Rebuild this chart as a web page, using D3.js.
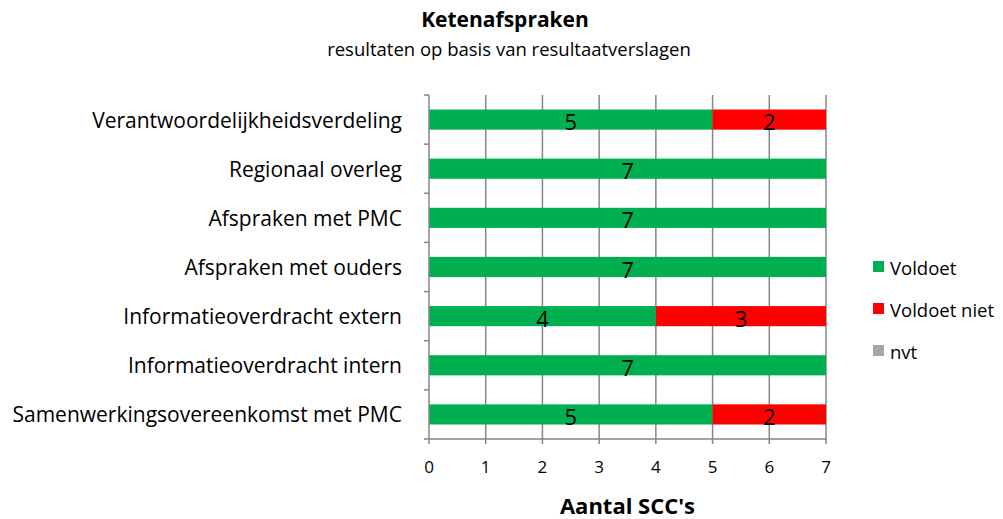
<!DOCTYPE html>
<html>
<head>
<meta charset="utf-8">
<style>
  body { margin: 0; background: #fff; font-family: "Open Sans", sans-serif; }
  svg text { fill: #000; }
</style>
<script src="https://d3js.org/d3.v7.min.js"></script>
</head>
<body>
<script>
  // data
  const categories = [
    "Verantwoordelijkheidsverdeling",
    "Regionaal overleg",
    "Afspraken met PMC",
    "Afspraken met ouders",
    "Informatieoverdracht extern",
    "Informatieoverdracht intern",
    "Samenwerkingsovereenkomst met PMC"
  ];
  const voldoet     = [5, 7, 7, 7, 4, 7, 5];
  const voldoetNiet = [2, 0, 0, 0, 3, 0, 2];
  const nvt         = [0, 0, 0, 0, 0, 0, 0];
  const seriesNames = ["Voldoet", "Voldoet niet", "nvt"];
  const seriesColors = ["#00B050", "#FF0000", "#A6A6A6"];
  const xTicks = [0, 1, 2, 3, 4, 5, 6, 7];

  const width = 1003, height = 519;
  const margin = { left: 429, right: 177, top: 95, bottom: 80 };

  const svg = d3.select("body").append("svg")
      .attr("width", width)
      .attr("height", height);

  const x = d3.scaleLinear().domain([0, 7]).range([margin.left, width - margin.right]);
  const y = d3.scaleBand().domain(categories)
      .range([margin.top, height - margin.bottom])
      .paddingInner(0.59).paddingOuter(0.295);
  const yFull = d3.scaleBand().domain(categories).range([margin.top, height - margin.bottom]);

  const rows = categories.map((c, i) => ({ cat: c, vals: [voldoet[i], voldoetNiet[i], nvt[i]] }));
  const stacked = d3.stack().keys([0, 1, 2]).value((d, k) => d.vals[k])(rows);

  // gridlines
  svg.append("g").selectAll("line")
    .data(xTicks.slice(1))
    .join("line")
      .attr("x1", d => x(d)).attr("x2", d => x(d))
      .attr("y1", margin.top).attr("y2", height - margin.bottom)
      .attr("stroke", "#868686").attr("stroke-width", 1.5);

  // bars
  stacked.forEach((layer, k) => {
    svg.append("g").attr("fill", seriesColors[k])
      .selectAll("rect")
      .data(layer)
      .join("rect")
        .attr("x", d => x(d[0]))
        .attr("width", d => x(d[1]) - x(d[0]))
        .attr("y", d => y(d.data.cat))
        .attr("height", y.bandwidth());
    svg.append("g")
      .selectAll("text")
      .data(layer.filter(d => d[1] - d[0] > 0))
      .join("text")
        .attr("x", d => (x(d[0]) + x(d[1])) / 2)
        .attr("y", d => y(d.data.cat) + y.bandwidth() / 2 + 1.5)
        .attr("text-anchor", "middle")
        .attr("dominant-baseline", "central")
        .style("font-size", "22px")
        .text(d => d[1] - d[0]);
  });

  // y axis
  const yAxis = svg.append("g").attr("transform", `translate(${margin.left},0)`);
  yAxis.append("line")
    .attr("x1", 0).attr("x2", 0)
    .attr("y1", margin.top).attr("y2", height - margin.bottom)
    .attr("stroke", "#868686").attr("stroke-width", 1.5);
  yAxis.selectAll("line.tk")
    .data(categories.map(c => yFull(c)).concat([height - margin.bottom]))
    .join("line").attr("class", "tk")
      .attr("x1", -5).attr("x2", 0)
      .attr("y1", d => d).attr("y2", d => d)
      .attr("stroke", "#868686").attr("stroke-width", 1.5);
  yAxis.selectAll("text")
    .data(categories)
    .join("text")
      .attr("x", -27)
      .attr("y", d => yFull(d) + yFull.bandwidth() / 2)
      .attr("text-anchor", "end")
      .attr("dominant-baseline", "central")
      .style("font-size", "21px")
      .text(d => d);

  // x axis
  const xAxis = svg.append("g").attr("transform", `translate(0,${height - margin.bottom})`);
  xAxis.append("line")
    .attr("x1", x(0)).attr("x2", x(7))
    .attr("stroke", "#868686").attr("stroke-width", 1.5);
  xAxis.selectAll("line.tk")
    .data(xTicks)
    .join("line").attr("class", "tk")
      .attr("x1", d => x(d)).attr("x2", d => x(d))
      .attr("y1", 0).attr("y2", 5)
      .attr("stroke", "#868686").attr("stroke-width", 1.5);
  xAxis.selectAll("text")
    .data(xTicks)
    .join("text")
      .attr("x", d => x(d))
      .attr("y", 27)
      .attr("text-anchor", "middle")
      .attr("dominant-baseline", "central")
      .style("font-size", "17px")
      .text(d => d);

  svg.append("text")
    .attr("x", (x(0) + x(7)) / 2).attr("y", 505)
    .attr("text-anchor", "middle").attr("dominant-baseline", "central")
    .style("font-size", "22px").style("font-weight", "bold")
    .text("Aantal SCC's");

  // titles
  svg.append("text")
    .attr("x", 505).attr("y", 19)
    .attr("text-anchor", "middle").attr("dominant-baseline", "central")
    .style("font-size", "21px").style("font-weight", "bold")
    .text("Ketenafspraken");
  svg.append("text")
    .attr("x", 509).attr("y", 48)
    .attr("text-anchor", "middle").attr("dominant-baseline", "central")
    .style("font-size", "18.5px")
    .text("resultaten op basis van resultaatverslagen");

  // legend
  const legendY = [267, 309, 351];
  const legend = svg.append("g").selectAll("g")
    .data(seriesNames)
    .join("g")
      .attr("transform", (d, i) => `translate(873,${legendY[i]})`);
  legend.append("rect")
    .attr("x", 0).attr("y", -6).attr("width", 11).attr("height", 11)
    .attr("fill", (d, i) => seriesColors[i]);
  legend.append("text")
    .attr("x", 17).attr("y", 0)
    .attr("dominant-baseline", "central")
    .style("font-size", "18.5px")
    .text(d => d);
</script>
</body>
</html>
